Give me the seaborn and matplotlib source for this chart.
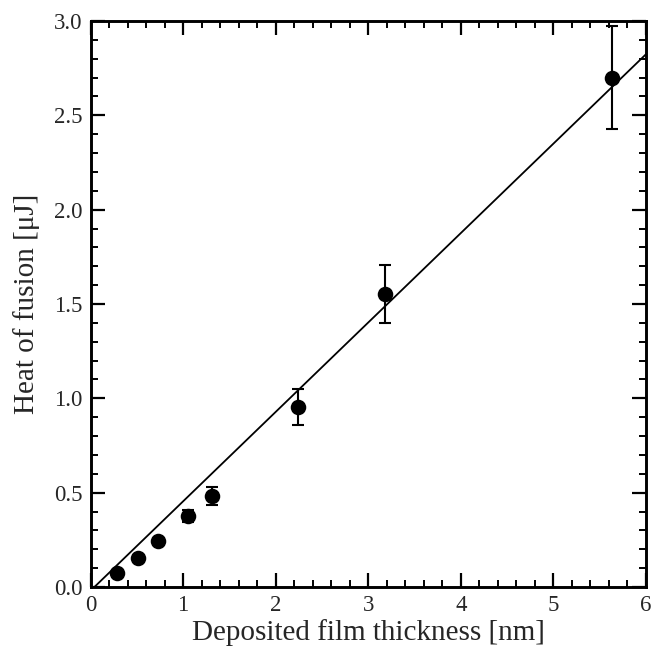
import numpy as np
import pandas as pd
import matplotlib
matplotlib.use("Agg")
import matplotlib.pyplot as plt
from matplotlib.ticker import MultipleLocator
import seaborn as sns

# Data
thickness_nm = [0.29, 0.51, 0.73, 1.05, 1.31, 2.24, 3.18, 5.63]
heat_uJ = [0.074, 0.154, 0.244, 0.376, 0.482, 0.954, 1.553, 2.70]
heat_err = [0.0, 0.0, 0.0, 0.03, 0.05, 0.095, 0.155, 0.275]
fit_slope = 0.474
fit_intercept = -0.02
fit_x_range = [0.0, 6.0]

sns.set_theme(style="ticks")
plt.rcParams['font.family'] = ['Liberation Serif', 'DejaVu Serif']

fig = plt.figure(figsize=(6.55, 6.53), dpi=100)
ax = fig.add_axes([90.5/655, 1 - 587/653, (646 - 90.5)/655, (587 - 21)/653])

df = pd.DataFrame({"x": thickness_nm, "y": heat_uJ, "err": heat_err})
fx = np.linspace(fit_x_range[0], fit_x_range[1], 50)
fit_df = pd.DataFrame({"x": fx, "y": fit_slope * fx + fit_intercept})

sns.lineplot(data=fit_df, x="x", y="y", color="black", linewidth=1.3, ax=ax, zorder=2)
ax.errorbar(df["x"], df["y"], yerr=df["err"], fmt="none", ecolor="black",
            elinewidth=1.5, capsize=4.5, capthick=1.5, zorder=3)
sns.scatterplot(data=df, x="x", y="y", color="black", s=125, edgecolor="black",
                linewidth=0, ax=ax, zorder=4)

ax.set_xlim(0, 6)
ax.set_ylim(0, 3.0)
ax.xaxis.set_minor_locator(MultipleLocator(0.2))
ax.yaxis.set_minor_locator(MultipleLocator(0.1))
ax.set_xticks([0, 1, 2, 3, 4, 5, 6])
ax.set_xticklabels(["0", "1", "2", "3", "4", "5", "6"])
ax.set_yticks([0.0, 0.5, 1.0, 1.5, 2.0, 2.5, 3.0])
ax.set_yticklabels(["0.0", "0.5", "1.0", "1.5", "2.0", "2.5", "3.0"])

ax.tick_params(which="both", direction="in", top=True, right=True, color="black")
ax.tick_params(which="major", length=10, width=1.6, labelsize=16.5, pad=6)
ax.tick_params(which="minor", length=5, width=1.4)
for s in ax.spines.values():
    s.set_linewidth(2.1)
    s.set_color("black")

ax.set_xlabel("Deposited film thickness [nm]", fontsize=21, labelpad=2)
ax.set_ylabel("Heat of fusion [μJ]", fontsize=21, labelpad=10)

fig.savefig("out.png", dpi=100)
